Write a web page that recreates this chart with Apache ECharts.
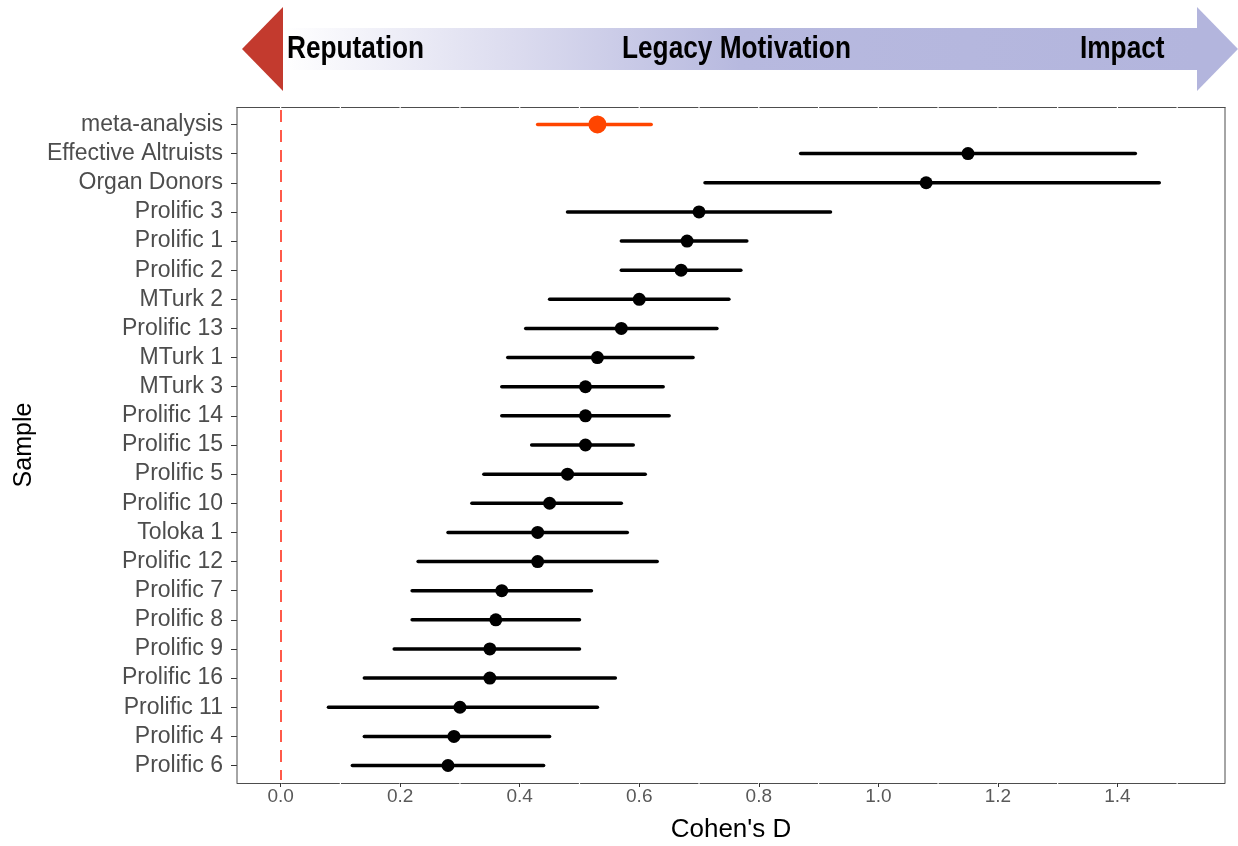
<!DOCTYPE html>
<html>
<head>
<meta charset="utf-8">
<script src="https://cdn.jsdelivr.net/npm/echarts@6/dist/echarts.min.js"></script>
<style>
html,body{margin:0;padding:0;background:#fff;}
#chart{width:1238px;height:846px;}
</style>
</head>
<body>
<div id="chart"></div>
<script>
// ---- data ----
const categories = ['meta-analysis','Effective Altruists','Organ Donors','Prolific 3','Prolific 1','Prolific 2','MTurk 2','Prolific 13','MTurk 1','MTurk 3','Prolific 14','Prolific 15','Prolific 5','Prolific 10','Toloka 1','Prolific 12','Prolific 7','Prolific 8','Prolific 9','Prolific 16','Prolific 11','Prolific 4','Prolific 6'];
const estimates = [0.53, 1.15, 1.08, 0.70, 0.68, 0.67, 0.60, 0.57, 0.53, 0.51, 0.51, 0.51, 0.48, 0.45, 0.43, 0.43, 0.37, 0.36, 0.35, 0.35, 0.30, 0.29, 0.28];
const lowerCI = [0.43, 0.87, 0.71, 0.48, 0.57, 0.57, 0.45, 0.41, 0.38, 0.37, 0.37, 0.42, 0.34, 0.32, 0.28, 0.23, 0.22, 0.22, 0.19, 0.14, 0.08, 0.14, 0.12];
const upperCI = [0.62, 1.43, 1.47, 0.92, 0.78, 0.77, 0.75, 0.73, 0.69, 0.64, 0.65, 0.59, 0.61, 0.57, 0.58, 0.63, 0.52, 0.50, 0.50, 0.56, 0.53, 0.45, 0.44];
const xTicks = [0, 0.2, 0.4, 0.6, 0.8, 1.0, 1.2, 1.4];
const xRange = [-0.073, 1.58];
const refLine = 0;
const headerLabels = ['Reputation', 'Legacy Motivation', 'Impact'];

// ---- layout ----
const PL = 237, PR = 1225, PT = 107, PB = 783;
const N = categories.length;
const step = (PB - PT) / (N - 1 + 1.2);
const gridTop = PT + 0.1 * step;
const gridH = N * step;
const gridBottomPx = gridTop + gridH;

const ppu = (PR - PL) / (xRange[1] - xRange[0]);
const minorStep = 0.1 * ppu;
const gapW = 2;
const p0 = ((refLine - xRange[0]) * ppu) % minorStep;
const dashOff = (((minorStep - gapW / 2 - p0) % minorStep) + minorStep) % minorStep;

const FONT = "'Liberation Sans', Arial, Helvetica, sans-serif";

const errorData = categories.map((c, i) => [lowerCI[i], upperCI[i], i]);
const pointData = categories.map((c, i) => i === 0
  ? { value: [estimates[i], i], symbolSize: 18, itemStyle: { color: '#ff4500' } }
  : { value: [estimates[i], i] });

const chart = echarts.init(document.getElementById('chart'), null, { renderer: 'canvas' });

const borderLine = (x) => ({
  type: 'line', silent: true, z: 10,
  shape: { x1: x, y1: PT, x2: x, y2: PB },
  style: { stroke: '#4d4d4d', lineWidth: 1 }
});
const headerText = (txt, x) => ({
  type: 'text', silent: true, x: x, y: 33, scaleX: 0.82, scaleY: 1,
  style: { text: txt, font: "bold 32px 'Liberation Sans', Arial, sans-serif", fill: '#000', textVerticalAlign: 'top' }
});

const option = {
  backgroundColor: '#ffffff',
  animation: false,
  grid: { left: PL, top: gridTop, width: PR - PL, height: gridH, containLabel: false, outerBoundsMode: 'none' },
  xAxis: [{
    type: 'value', min: xRange[0], max: xRange[1], position: 'bottom',
    offset: PB - gridBottomPx,
    name: "Cohen's D", nameLocation: 'middle', nameGap: 34,
    nameTextStyle: { fontFamily: FONT, fontSize: 26, color: '#000' },
    axisLine: { show: true, onZero: false, lineStyle: { color: '#4d4d4d', width: 1, type: [minorStep - gapW, gapW], dashOffset: dashOff } },
    axisTick: { show: true, length: 4, customValues: xTicks, lineStyle: { color: '#333', width: 1 } },
    axisLabel: { show: true, customValues: xTicks, margin: 4, fontFamily: FONT, fontSize: 19, color: '#595959', formatter: v => v.toFixed(1) },
    splitLine: { show: false }
  }, {
    type: 'value', min: xRange[0], max: xRange[1], position: 'top',
    offset: gridTop - PT,
    axisLine: { show: true, onZero: false, lineStyle: { color: '#4d4d4d', width: 1, type: [minorStep - gapW, gapW], dashOffset: dashOff } },
    axisTick: { show: false }, axisLabel: { show: false }, splitLine: { show: false }
  }],
  yAxis: [{
    type: 'category', data: categories, inverse: true, position: 'left',
    name: 'Sample', nameLocation: 'middle', nameGap: 200,
    nameTextStyle: { fontFamily: FONT, fontSize: 25, color: '#000' },
    axisLine: { show: false, onZero: false },
    axisTick: { show: true, alignWithLabel: true, interval: 0, length: 6, lineStyle: { color: '#333', width: 1 } },
    axisLabel: { show: true, interval: 0, hideOverlap: false, margin: 14, fontFamily: FONT, fontSize: 23, color: '#4d4d4d' },
    splitLine: { show: false }
  }],
  graphic: [
    borderLine(PL), borderLine(PR),
    { type: 'polygon', silent: true, shape: { points: [[242, 49], [283, 7], [283, 91]] }, style: { fill: '#c33a2e' } },
    { type: 'rect', silent: true, shape: { x: 283, y: 28, width: 914, height: 42 },
      style: { fill: new echarts.graphic.LinearGradient(0, 0, 1, 0, [
        { offset: 0, color: '#ffffff' }, { offset: 0.25, color: '#dcdcef' }, { offset: 0.5, color: '#b7b9df' }, { offset: 1, color: '#b3b5dd' }]) } },
    { type: 'polygon', silent: true, shape: { points: [[1197, 7], [1238, 49], [1197, 91]] }, style: { fill: '#b3b5dd' } },
    headerText(headerLabels[0], 287),
    headerText(headerLabels[1], 622),
    headerText(headerLabels[2], 1080)
  ],
  series: [{
    type: 'custom',
    z: 3,
    xAxisIndex: 0, yAxisIndex: 0,
    data: errorData,
    encode: { x: [0, 1], y: 2 },
    renderItem: function (params, api) {
      const y = api.value(2);
      const a = api.coord([api.value(0), y]);
      const b = api.coord([api.value(1), y]);
      return {
        type: 'line',
        shape: { x1: a[0], y1: a[1], x2: b[0], y2: b[1] },
        style: { stroke: params.dataIndex === 0 ? '#ff4500' : '#000000', lineWidth: 3.5, lineCap: 'round' }
      };
    }
  }, {
    type: 'scatter',
    z: 4,
    xAxisIndex: 0, yAxisIndex: 0,
    symbol: 'circle',
    symbolSize: 13,
    itemStyle: { color: '#000000', opacity: 1 },
    data: pointData,
    markLine: {
      silent: true, symbol: 'none',
      label: { show: false },
      lineStyle: { color: '#ff5a4a', width: 2, type: [12, 8] },
      data: [{ xAxis: refLine }]
    }
  }]
};
chart.setOption(option);
</script>
</body>
</html>
